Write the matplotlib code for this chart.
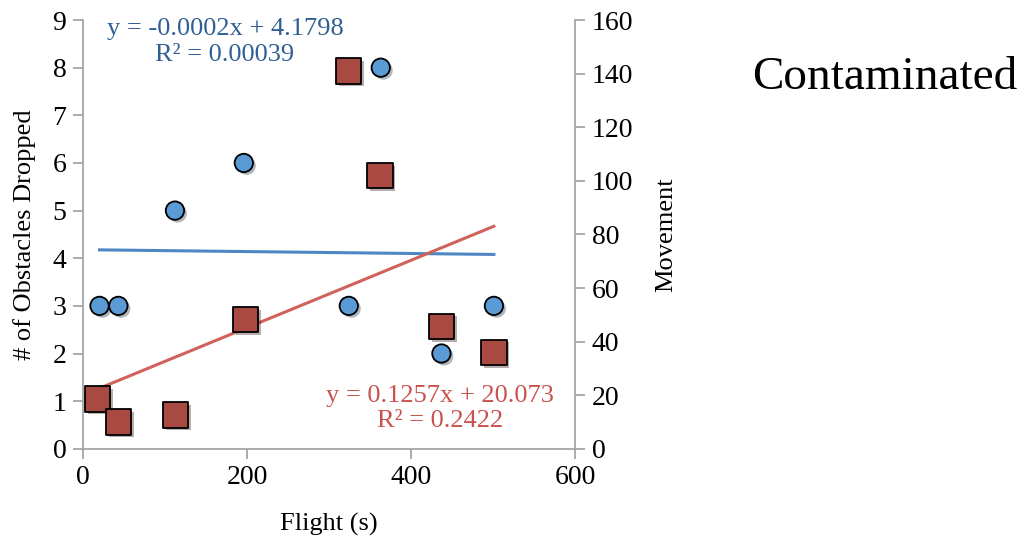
import numpy as np
import matplotlib
matplotlib.use("Agg")
import matplotlib.pyplot as plt
import matplotlib.patheffects as pe

plt.rcParams["font.family"] = ["Liberation Serif", "DejaVu Serif"]

# obstacles dropped (left axis)
flight_obst = [20, 43, 112, 196, 324, 363, 437, 501]
obstacles = [3, 3, 5, 6, 3, 8, 2, 3]
obst_fit = (-0.0002, 4.1798)
obst_label = "y = -0.0002x + 4.1798\nR² = 0.00039"

# movement (right axis)
flight_move = [18, 43, 113, 198, 324, 362, 437, 501]
movement = [18.6, 10, 12.6, 48.3, 141, 102, 45.7, 36]
move_fit = (0.1257, 20.073)
move_label = "y = 0.1257x + 20.073\nR² = 0.2422"

blue = "#5B9BD5"
blue_line = "#4F86C6"
blue_text = "#2F5F94"
red = "#A84A42"
red_line = "#D0625B"
red_text = "#C9524D"
gray = "#A6A6A6"

fig = plt.figure(figsize=(10.26, 5.42), dpi=100)
ax = fig.add_axes([0.081, 0.172, 0.4795, 0.791])
ax2 = ax.twinx()

shadow = [pe.SimplePatchShadow(offset=(2, -2), alpha=0.35), pe.Normal()]

xs = np.array([min(flight_obst), max(flight_obst)])
ax.plot(xs, obst_fit[0] * xs + obst_fit[1], color=blue_line, lw=2.2, zorder=2)
ax.scatter(flight_obst, obstacles, s=175, c=blue, edgecolors="black",
           linewidths=1.3, zorder=3, path_effects=shadow)

xs2 = np.array([min(flight_move), max(flight_move)])
ax2.plot(xs2, move_fit[0] * xs2 + move_fit[1], color=red_line, lw=2.2, zorder=2)
ax2.scatter(flight_move, movement, s=330, marker="s", c=red, edgecolors="black",
            linewidths=1.3, zorder=3, path_effects=shadow)

ax.set_xlim(0, 600)
ax.set_ylim(0, 9)
ax2.set_ylim(0, 160)
ax.set_xticks(range(0, 601, 200))
ax.set_yticks(range(0, 10))
ax2.set_yticks(range(0, 161, 20))

for a in (ax, ax2):
    a.spines["top"].set_visible(False)
    for s in a.spines.values():
        s.set_color(gray)
        s.set_linewidth(1.3)
    a.tick_params(colors=gray, labelcolor="black", labelsize=20, width=1.3,
                  length=7, pad=5)
ax.spines["right"].set_visible(False)
ax2.spines["left"].set_visible(False)
ax2.spines["bottom"].set_visible(False)

ax.set_xlabel("Flight (s)", fontsize=19, labelpad=16)
ax.set_ylabel("# of Obstacles Dropped", fontsize=19, labelpad=12)
ax2.set_ylabel("Movement", fontsize=19, labelpad=16)

ax.text(173, 8.54, obst_label, ha="center", va="center", fontsize=19,
        color=blue_text, linespacing=1.2)
ax.text(435, 0.84, move_label, ha="center", va="center", fontsize=19,
        color=red_text, linespacing=1.2)

fig.text(0.862, 0.856, "Contaminated", ha="center", va="center", fontsize=34)

fig.savefig("out.png", dpi=100)
